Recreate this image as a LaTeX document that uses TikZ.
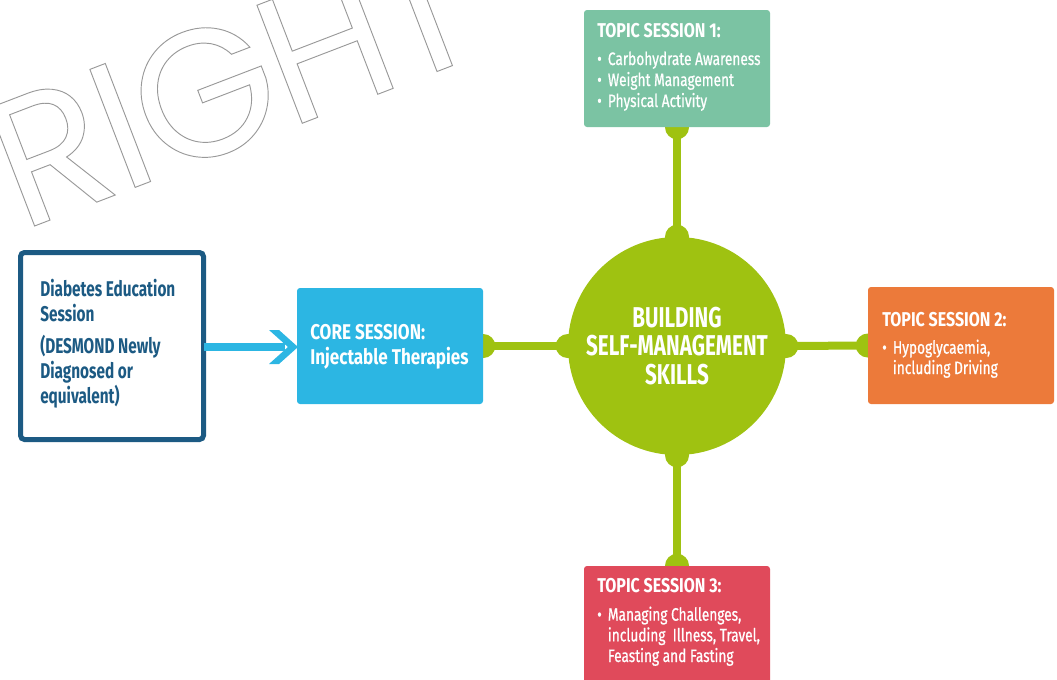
\documentclass[tikz,border=0pt]{standalone}
\usepackage{fontspec}
\usetikzlibrary{fit}
\setmainfont{Fira Sans}
\newfontfamily\din{Fira Sans}[FakeStretch=0.72]
\newfontfamily\dinc{Fira Sans}[FakeStretch=0.8]
\newfontfamily\dinm{Fira Sans}[FakeStretch=0.76, FakeBold=0.8]
\newfontfamily\wmfont{Poppins}
\definecolor{dblue}{HTML}{1C5A83}
\definecolor{lblue}{HTML}{2CB6E3}
\definecolor{lgreen}{HTML}{9FC211}
\definecolor{tealbox}{HTML}{7BC3A3}
\definecolor{orngbox}{HTML}{EC7A3A}
\definecolor{rosebox}{HTML}{E04A5B}
\definecolor{wmgray}{HTML}{999999}
\newcommand\bul{\makebox[8pt][l]{•}}
\newcommand\ind{\hspace*{8pt}}
\newcommand\hd[1]{{\dinc\bfseries\fontsize{15}{15}\selectfont #1}}
\begin{document}
\begin{tikzpicture}[x=0.75pt,y=-0.75pt,
  boxfill/.style={rectangle, rounded corners=2.25pt, inner sep=0pt},
  conn/.style={draw=lgreen, line width=6pt},
  knob/.style={circle, fill=lgreen, minimum size=18pt, inner sep=0pt},
  txt/.style={anchor=base west, align=left, inner sep=0pt, text=white},
]
\useasboundingbox (0,0) rectangle (1057,679);
\clip (0,0) rectangle (1057,679);

% watermark
\node[rotate=21, anchor=base, inner sep=0pt, text=wmgray,
      font=\wmfont\fontsize{136}{136}\selectfont] (wm) at (256,141)
  {\special{pdf:literal direct 1 Tr 0.7 w}R\kern-2pt I\kern-2pt G\kern-3pt H\kern-6pt T\special{pdf:literal direct 0 Tr}};

% coordinates for boxes
\coordinate (lb1) at (20.5,252.5);  \coordinate (lb2) at (203.5,439.5);
\coordinate (cb1) at (297,288);     \coordinate (cb2) at (483,404);
\coordinate (t1a) at (584,10);      \coordinate (t1b) at (770,127);
\coordinate (t2a) at (868,287);     \coordinate (t2b) at (1054,404);
\coordinate (t3a) at (584,566);     \coordinate (t3b) at (770,700);

% placeholders giving anchors
\path node[fit=(cb1)(cb2), boxfill] (core) {};
\path node[fit=(t1a)(t1b), boxfill] (t1) {};
\path node[fit=(t2a)(t2b), boxfill] (t2) {};
\path node[fit=(t3a)(t3b), boxfill] (t3) {};
\path node[fit=(lb1)(lb2), boxfill] (left) {};
\path node[circle, minimum size=163.5pt, inner sep=0pt] (hub) at (677,346) {};

% connectors
\draw[conn] (core.east) -- (hub.west);
\draw[conn] (hub.east) -- (t2.west);
\draw[conn] (t1.south) -- (hub.north);
\draw[conn] (hub.south) -- (t3.north);

% knobs
\node[knob] (k1) at (core.east) {};
\node[knob] (k2) at (hub.west) {};
\node[knob] (k3) at (hub.east) {};
\node[knob] (k4) at (t2.west) {};
\node[knob] (k5) at (t1.south) {};
\node[knob] (k6) at (hub.north) {};
\node[knob] (k7) at (hub.south) {};
\node[knob] (k8) at (t3.north) {};

% boxes
\fill[lblue, rounded corners=2.25pt] (cb1) rectangle (cb2);
\fill[tealbox, rounded corners=2.25pt] (t1a) rectangle (t1b);
\fill[orngbox, rounded corners=2.25pt] (t2a) rectangle (t2b);
\fill[rosebox, rounded corners=2.25pt] (t3a) rectangle (t3b);
\draw[dblue, line width=3.75pt, rounded corners=3pt] (lb1) rectangle (lb2);
\fill[lgreen] (hub.center) circle[radius=81.75pt];

% arrow
\coordinate (tip) at (298,347);
\coordinate (shaftend) at (285,347);
\draw[lblue, line width=6pt] (left.east |- tip) -- (shaftend);
\fill[lblue] (tip) -- ++(-19,-17) -- ++(-10,0) -- ++(19,17) -- ++(-19,17) -- ++(10,0) -- cycle;

% texts
\node[txt, text=dblue, font=\din\bfseries\fontsize{16}{18.75}\selectfont] (lt) at (40,403)
  {Diabetes Education\\Session\\[5.25pt](DESMOND Newly\\Diagnosed or\\equivalent)};
\node[txt, font=\dinc\bfseries\fontsize{16}{18.75}\selectfont] (ct) at (310,364)
  {CORE SESSION:\\Injectable Therapies};
\node[align=center, text=white, inner sep=0pt, font=\din\bfseries\fontsize{21.5}{21.4}\selectfont] (ht) at (hub.center)
  {BUILDING\\SELF-MANAGEMENT\\SKILLS};
\node[txt, font=\dinm\fontsize{13.5}{15.75}\selectfont] (tt1) at (597,107)
  {\hd{TOPIC SESSION 1:}\\[5.25pt]\bul Carbohydrate Awareness\\\bul Weight Management\\\bul Physical Activity};
\node[txt, font=\dinm\fontsize{13.5}{15.25}\selectfont] (tt2) at (882,374)
  {\hd{TOPIC SESSION 2:}\\[5pt]\bul Hypoglycaemia,\\\ind including Driving};
\node[txt, font=\dinm\fontsize{13.5}{15.5}\selectfont] (tt3) at (597,662)
  {\hd{TOPIC SESSION 3:}\\[5.5pt]\bul Managing Challenges,\\\ind including\ \ Illness, Travel,\\\ind Feasting and Fasting};
\end{tikzpicture}
\end{document}
